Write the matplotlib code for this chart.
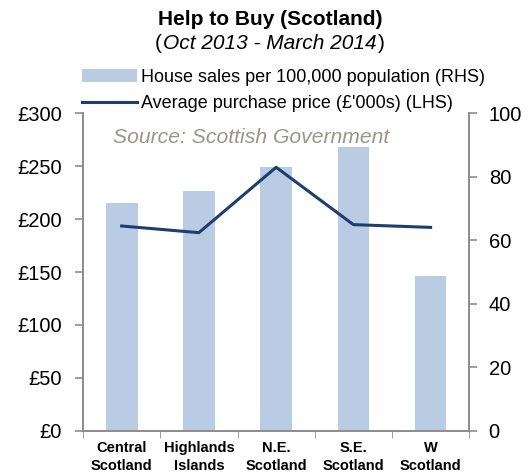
import numpy as np
import matplotlib.pyplot as plt
from matplotlib.ticker import FixedLocator

plt.rcParams['font.family'] = ['Liberation Sans', 'DejaVu Sans']

#data
regions = ['Central\nScotland', 'Highlands\nIslands', 'N.E.\nScotland', 'S.E.\nScotland', 'W\nScotland']
sales = [71.6, 75.4, 83.0, 89.3, 48.9]        # per 100,000 population (RHS)
price = [193.5, 187.2, 249.0, 194.8, 192.2]   # £'000s (LHS)

bar_col = '#b9cce4'
line_col = '#1f3e6e'
spine_col = '#8c8c8c'

fig = plt.figure(figsize=(5.29, 4.76), dpi=100)
ax = fig.add_axes([0.157, 0.095, 0.73, 0.667])
ax2 = ax.twinx()

x = np.arange(len(regions))
bars = ax2.bar(x, sales, 0.41, color=bar_col, zorder=1,
               label='House sales per 100,000 population (RHS)')
ln, = ax.plot(x, price, color=line_col, lw=2.2, zorder=3,
              label="Average purchase price (£'000s) (LHS)")

# line drawn over the bars
ax.set_zorder(ax2.get_zorder() + 1)
ax.patch.set_visible(False)

ax.set_xlim(-0.5, len(regions) - 0.5)
ax.set_ylim(0, 300)
ax2.set_ylim(0, 100)
ax.set_yticks(np.arange(0, 301, 50))
ax.set_yticklabels(['£%d' % v for v in range(0, 301, 50)])
ax2.set_yticks(np.arange(0, 101, 20))

ax.set_xticks(x)
ax.set_xticklabels(regions, fontsize=10.5, fontweight='bold', linespacing=1.45)
ax.xaxis.set_minor_locator(FixedLocator(np.arange(-0.5, len(regions), 1)))
ax.tick_params(axis='x', which='major', length=0, pad=7)
ax.tick_params(axis='x', which='minor', length=5, color=spine_col, direction='out')
ax.tick_params(axis='y', labelsize=14.5, length=6, width=1.2, color=spine_col, pad=9)
ax2.tick_params(axis='y', labelsize=14.5, length=6, width=1.2, color=spine_col, pad=8)

for a in (ax, ax2):
    a.spines['top'].set_visible(False)
    for s in ('left', 'right', 'bottom'):
        a.spines[s].set_color(spine_col)
        a.spines[s].set_linewidth(1.2)

ax.text(0.078, 0.905, 'Source: Scottish Government', transform=ax.transAxes,
        fontsize=15.2, style='italic', color='#9a948e')

fig.legend([bars, ln], [bars.get_label(), ln.get_label()],
           loc='upper left', bbox_to_anchor=(0.142, 0.87), frameon=False,
           fontsize=13, handlelength=3.0, handletextpad=0.25, labelspacing=0.5,
           borderaxespad=0)

fig.text(0.51, 0.96, 'Help to Buy (Scotland)', ha='center', va='center',
         fontsize=15, fontweight='bold')

# subtitle: italic dates between upright brackets
fig.canvas.draw()
r = fig.canvas.get_renderer()
sub = fig.text(0.51, 0.908, 'Oct 2013 - March 2014', ha='center', va='center',
               fontsize=15, style='italic')
bb = sub.get_window_extent(r).transformed(fig.transFigure.inverted())
fig.text(bb.x0 - 0.002, 0.908, '(', ha='right', va='center', fontsize=15)
fig.text(bb.x1 + 0.002, 0.908, ')', ha='left', va='center', fontsize=15)

fig.savefig('out.png', dpi=100)
